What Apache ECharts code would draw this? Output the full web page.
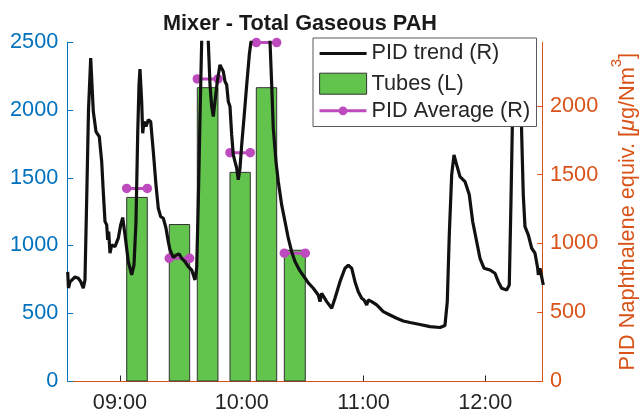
<!DOCTYPE html>
<html>
<head>
<meta charset="utf-8">
<title>Mixer - Total Gaseous PAH</title>
<script src="https://cdn.jsdelivr.net/npm/echarts@6.0.0/dist/echarts.min.js"></script>
<style>
    html, body { margin: 0; padding: 0; background: #fff; }
    #mixer-chart { width: 639px; height: 413px; }
</style>
</head>
<body>
<div id="mixer-chart"></div>
<script>
// PID 趋势 (右轴) - 时间 / 数值
const trendTimes = [
    '08:34:14', '08:34:37', '08:35:22', '08:37:50', '08:39:27', '08:40:38', '08:41:55', '08:42:45',
    '08:43:35', '08:44:29', '08:45:34', '08:46:51', '08:48:10', '08:49:48', '08:50:59', '08:51:46',
    '08:52:37', '08:53:27', '08:53:56', '08:54:26', '08:55:04', '08:55:55', '08:57:32', '08:59:10',
    '09:00:21', '09:01:20', '09:02:28', '09:04:05', '09:05:46', '09:06:54', '09:07:53', '09:08:43',
    '09:09:22', '09:09:51', '09:10:41', '09:11:11', '09:11:50', '09:12:49', '09:13:57', '09:15:08',
    '09:16:25', '09:17:44', '09:18:52', '09:20:03', '09:21:20', '09:22:40', '09:23:48', '09:24:38',
    '09:26:16', '09:27:44', '09:29:04', '09:30:24', '09:32:02', '09:33:39', '09:35:20', '09:36:57',
    '09:37:47', '09:38:35', '09:39:25', '09:40:15', '09:41:53', '09:43:30', '09:44:21', '09:45:11',
    '09:45:58', '09:46:48', '09:47:57', '09:49:16', '09:50:07', '09:50:54', '09:51:44', '09:52:34',
    '09:53:22', '09:54:12', '09:55:02', '09:55:50', '09:56:40', '09:57:30', '09:58:17', '09:59:08',
    '09:59:58', '10:01:06', '10:02:26', '10:03:43', '10:04:33', '10:08:59', '10:13:55', '10:14:45',
    '10:15:32', '10:16:52', '10:18:00', '10:19:40', '10:21:18', '10:22:55', '10:24:36', '10:26:14',
    '10:28:41', '10:31:09', '10:32:47', '10:35:15', '10:37:42', '10:38:33', '10:39:23', '10:41:51',
    '10:44:19', '10:45:56', '10:48:24', '10:50:52', '10:52:29', '10:54:10', '10:55:47', '10:57:25',
    '10:59:06', '11:00:14', '11:01:34', '11:02:21', '11:04:01', '11:06:29', '11:09:44', '11:13:02',
    '11:16:20', '11:19:35', '11:22:53', '11:27:49', '11:32:45', '11:37:40', '11:40:08', '11:41:16',
    '11:42:15', '11:43:26', '11:44:34', '11:45:54', '11:47:32', '11:49:59', '11:52:07', '11:53:47',
    '11:55:45', '11:57:23', '11:59:21', '12:02:18', '12:04:46', '12:06:24', '12:08:04', '12:10:32',
    '12:11:49', '12:12:39', '12:13:18', '12:13:47', '12:15:22', '12:17:05', '12:17:56', '12:18:43',
    '12:19:33', '12:21:11', '12:22:52', '12:24:29', '12:25:49', '12:26:07', '12:26:57', '12:28:34'
];
const trendValues = [
    793, 676, 720, 756, 747, 722, 674, 735,
    1316, 1971, 2347, 1959, 1813, 1777, 1595, 1377,
    1159, 1135, 1025, 1086, 929, 989, 977, 1038,
    1135, 1188, 1062, 868, 771, 844, 1159, 1789,
    2153, 2267, 2031, 1801, 1886, 1850, 1898, 1886,
    1668, 1425, 1256, 1195, 1183, 1111, 1013, 953,
    898, 916, 924, 892, 868, 831, 807, 735,
    820, 1304, 1911, 2468, 3000, 2468, 2153, 1995,
    1922, 2031, 2177, 2298, 2311, 2250, 2177, 2153,
    2031, 1995, 1789, 1644, 1595, 1547, 1462, 1547,
    1716, 1911, 2153, 2371, 2468, 3200, 2468, 2153,
    1838, 1595, 1450, 1280, 1159, 1038, 940, 868,
    800, 749, 713, 674, 625, 577, 638, 577,
    529, 601, 722, 820, 841, 820, 722, 649,
    601, 589, 553, 589, 577, 553, 504, 480,
    456, 436, 425, 411, 395, 389, 404, 577,
    1062, 1498, 1644, 1571, 1486, 1450, 1353, 1159,
    1013, 892, 820, 807, 783, 722, 674, 662,
    698, 1304, 1838, 2468, 2900, 2468, 1789, 1353,
    1122, 1062, 965, 929, 820, 771, 820, 698
];

// 采样管 (左轴) - 开始 / 结束 / 数值
const tubeStarts = ['09:03:18', '09:24:17', '09:38:05', '09:54:12', '10:07:10', '10:20:58'];
const tubeEnds = ['09:13:27', '09:34:20', '09:48:17', '10:04:12', '10:17:13', '10:31:18'];
const tubeValues = [1355, 1155, 2165, 1540, 2165, 965];

// 每个采样区间的 PID 平均值 (右轴)
const pidAverages = [1400, 892, 2196, 1660, 2460, 929];

// 坐标轴刻度
const timeTicks = ['09:00', '10:00', '11:00', '12:00'];
const rightTicks = [0, 500, 1000, 1500, 2000];

const BLUE = '#0072BD';
const ORANGE = '#D95319';
const GREEN = '#62C34D';
const MAGENTA = '#BD4BBD';
const TEXT = '#262626';
const FONT = '"Liberation Sans", Arial, Helvetica, sans-serif';
const FS = 21.7;

let mixerChart = null;

function toMinutes(t) {
    const p = t.split(':').map(Number);
    return p[0] * 60 + p[1] + (p[2] || 0) / 60;
}

function fmtMinutes(v) {
    const h = Math.floor(v / 60);
    const m = Math.round(v - h * 60);
    return String(h).padStart(2, '0') + ':' + String(m).padStart(2, '0');
}

function loadMixerChart() {
    try {
        const chartDom = document.getElementById('mixer-chart');
        mixerChart = echarts.init(chartDom, null, { renderer: 'canvas' });

        const trendData = trendTimes.map((t, i) => [toMinutes(t), trendValues[i]]);
        const tubeData = tubeStarts.map((t, i) => [toMinutes(t), toMinutes(tubeEnds[i]), tubeValues[i]]);

        // 平均值线段, 中间用空点断开
        const avgData = [];
        pidAverages.forEach((v, i) => {
            const a = toMinutes(tubeStarts[i]);
            const b = toMinutes(tubeEnds[i]);
            avgData.push([a, v], [b, v], [(b + 0.1), null]);
        });

        const tickMinutes = timeTicks.map(toMinutes);

        const option = {
            animation: false,
            backgroundColor: '#fff',
            textStyle: { fontFamily: FONT },
            title: {
                text: 'Mixer - Total Gaseous PAH',
                left: 163,
                top: 13,
                padding: 0,
                textStyle: { fontFamily: FONT, fontSize: FS, fontWeight: 'bold', color: '#1a1a1a' }
            },
            graphic: [{
                type: 'rect',
                left: 312.5,
                top: 37.5,
                z: 10,
                shape: { width: 223.5, height: 88.5 },
                style: { fill: '#fff', stroke: '#5a5a5a', lineWidth: 1 }
            }],
            legend: [
                {
                    orient: 'vertical',
                    left: 318,
                    top: 42.5,
                    padding: 0,
                    z: 20,
                    itemWidth: 47,
                    itemHeight: 21,
                    itemGap: 8.2,
                    textStyle: { fontFamily: FONT, fontSize: FS, lineHeight: 21, color: TEXT },
                    data: [
                        {
                            name: 'PID trend (R)',
                            itemStyle: { color: 'rgba(0,0,0,0)', borderColor: 'rgba(0,0,0,0)', borderWidth: 0 },
                            lineStyle: { color: '#111', width: 3.2 }
                        },
                        { name: 'Tubes (L)', icon: 'rect', itemStyle: { color: GREEN, borderColor: '#333', borderWidth: 1 } }
                    ]
                },
                {
                    orient: 'vertical',
                    left: 318,
                    top: 99.8,
                    padding: 0,
                    z: 20,
                    itemWidth: 47,
                    itemHeight: 11,
                    textStyle: { fontFamily: FONT, fontSize: FS, lineHeight: 21, color: TEXT },
                    data: [{ name: 'PID Average (R)', lineStyle: { color: MAGENTA, width: 3 } }]
                }
            ],
            grid: {
                left: 67.7,
                right: 96.3,
                top: 42.3,
                bottom: 32,
                containLabel: false,
                outerBoundsMode: 'none'
            },
            xAxis: {
                type: 'value',
                min: toMinutes('08:34:14'),
                max: toMinutes('12:28:17'),
                axisLine: { show: true, lineStyle: { color: ORANGE, width: 1 } },
                axisTick: { show: true, inside: true, length: 5.5, customValues: tickMinutes, lineStyle: { color: TEXT } },
                axisLabel: {
                    customValues: tickMinutes,
                    formatter: (v) => fmtMinutes(v),
                    margin: 11,
                    fontSize: FS,
                    fontFamily: FONT,
                    color: TEXT
                },
                splitLine: { show: false }
            },
            yAxis: [
                {
                    type: 'value',
                    min: 0,
                    max: 2500,
                    interval: 500,
                    position: 'left',
                    axisLine: { show: true, lineStyle: { color: BLUE, width: 1 } },
                    axisTick: { show: true, inside: true, length: 5.5, lineStyle: { color: BLUE } },
                    axisLabel: { margin: 9.4, fontSize: FS, fontFamily: FONT, color: BLUE, formatter: (v) => String(v) },
                    splitLine: { show: false }
                },
                {
                    type: 'value',
                    min: 0,
                    max: 2462,
                    position: 'right',
                    axisLine: { show: true, lineStyle: { color: ORANGE, width: 1 } },
                    axisTick: { show: true, inside: true, length: 5.5, customValues: rightTicks, lineStyle: { color: ORANGE } },
                    axisLabel: { customValues: rightTicks, margin: 7.3, fontSize: FS, fontFamily: FONT, color: ORANGE, formatter: (v) => String(v) },
                    splitLine: { show: false },
                    name: '{t|PID Naphthalene equiv. [}{mu|μ}{t|g/Nm}{sup|3}{t|]}',
                    nameLocation: 'middle',
                    nameRotate: 90,
                    nameGap: 64,
                    nameTextStyle: {
                        rich: {
                            t: { fontFamily: FONT, fontSize: FS, color: ORANGE, lineHeight: 22, verticalAlign: 'bottom' },
                            mu: { fontFamily: FONT, fontSize: FS, fontStyle: 'italic', color: ORANGE, lineHeight: 22, verticalAlign: 'bottom' },
                            sup: { fontFamily: FONT, fontSize: 15, color: ORANGE, lineHeight: 15, padding: [0, 0, 15, 0], verticalAlign: 'bottom' }
                        }
                    }
                }
            ],
            series: [
                {
                    name: 'Tubes (L)',
                    type: 'custom',
                    yAxisIndex: 0,
                    itemStyle: { color: GREEN },
                    encode: { x: [0, 1], y: 2 },
                    data: tubeData,
                    renderItem: function (params, api) {
                        const p0 = api.coord([api.value(0), api.value(2)]);
                        const p1 = api.coord([api.value(1), 0]);
                        return {
                            type: 'rect',
                            shape: { x: p0[0], y: p0[1], width: p1[0] - p0[0], height: p1[1] - p0[1] },
                            style: { fill: GREEN, stroke: '#333', lineWidth: 1 }
                        };
                    },
                    z: 2
                },
                {
                    name: 'PID Average (R)',
                    type: 'line',
                    yAxisIndex: 1,
                    data: avgData,
                    connectNulls: false,
                    symbol: 'circle',
                    symbolSize: 9.5,
                    showSymbol: true,
                    itemStyle: { color: MAGENTA },
                    lineStyle: { color: MAGENTA, width: 3 },
                    z: 3
                },
                {
                    name: 'PID trend (R)',
                    type: 'line',
                    yAxisIndex: 1,
                    data: trendData,
                    symbol: 'none',
                    itemStyle: { color: '#111' },
                    lineStyle: { color: '#111', width: 3.2 },
                    z: 4
                }
            ]
        };

        mixerChart.setOption(option);

        window.addEventListener('resize', () => {
            if (mixerChart) {
                mixerChart.resize();
            }
        });
    } catch (error) {
        console.error('加载图表失败:', error);
    }
}

loadMixerChart();
</script>
</body>
</html>
